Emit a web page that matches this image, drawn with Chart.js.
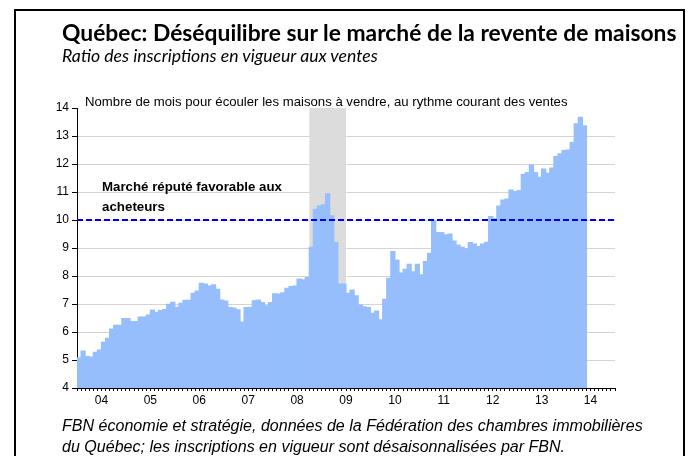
<!DOCTYPE html>
<html lang="fr">
<head>
<meta charset="utf-8">
<title>Québec: Déséquilibre sur le marché de la revente de maisons</title>
<script src="https://cdn.jsdelivr.net/npm/chart.js@4.4.1/dist/chart.umd.min.js"></script>
<style>
  html, body { margin: 0; padding: 0; background: #fff; }
  #wrap { position: relative; width: 693px; height: 456px; overflow: hidden; }
  #frame { position: absolute; left: 14px; top: 9px; width: 671px; height: 480px; border: 2px solid #000; box-sizing: border-box; }
  canvas { position: absolute; left: 0; top: 0; }
  .txt { position: absolute; white-space: nowrap; line-height: 1; color: #000; }
  .calibri { font-family: Lato, "Open Sans", sans-serif; }
  .arial { font-family: "Liberation Sans", Arial, sans-serif; }
</style>
</head>
<body>
<div id="wrap">
  <div id="frame"></div>
  <canvas id="chartRatio" width="693" height="456"></canvas>
  <span id="title" class="txt calibri" style="left:62px; font-size:21px; font-weight:bold;">Québec: Déséquilibre sur le marché de la revente de maisons</span>
  <span id="subtitle" class="txt calibri" style="left:62px; font-size:15px; font-style:italic;">Ratio des inscriptions en vigueur aux ventes</span>
  <span id="note" class="txt arial" style="left:85px; font-size:12px;">Nombre de mois pour écouler les maisons à vendre, au rythme courant des ventes</span>
  <span id="zone1" class="txt arial" style="left:102px; font-size:12px; font-weight:bold;">Marché réputé favorable aux</span>
  <span id="zone2" class="txt arial" style="left:102px; font-size:12px; font-weight:bold;">acheteurs</span>
  <span id="src1" class="txt arial" style="left:62px; font-size:14px; font-style:italic;">FBN économie et stratégie, données de la Fédération des chambres immobilières</span>
  <span id="src2" class="txt arial" style="left:62px; font-size:14px; font-style:italic;">du Québec; les inscriptions en vigueur sont désaisonnalisées par FBN.</span>
</div>
<script>
// Monthly ratio of active listings to sales, Jan 2004 onwards
const startYear = 2004;
const yearLabels = ['04', '05', '06', '07', '08', '09', '10', '11', '12', '13', '14'];
const ratio2004 = [5.08, 5.32, 5.12, 5.10, 5.27, 5.35, 5.63, 5.77, 6.10, 6.24, 6.24, 6.48];
const ratio2005 = [6.48, 6.37, 6.37, 6.53, 6.53, 6.60, 6.78, 6.70, 6.76, 6.80, 6.99, 7.06];
const ratio2006 = [6.88, 7.02, 7.13, 7.13, 7.38, 7.46, 7.74, 7.71, 7.64, 7.68, 7.52, 7.14];
const ratio2007 = [7.10, 6.87, 6.85, 6.79, 6.35, 6.87, 6.88, 7.11, 7.14, 7.05, 6.93, 7.05];
const ratio2008 = [7.36, 7.35, 7.40, 7.56, 7.62, 7.64, 7.89, 7.86, 7.94, 9.02, 10.38, 10.50];
const ratio2009 = [10.54, 10.93, 10.15, 9.19, 7.71, 7.71, 7.38, 7.50, 7.29, 6.96, 6.90, 6.87];
const ratio2010 = [6.67, 6.75, 6.43, 7.17, 7.92, 8.87, 8.57, 8.10, 8.24, 8.42, 8.15, 8.42];
const ratio2011 = [8.04, 8.51, 8.81, 9.98, 9.55, 9.55, 9.47, 9.50, 9.25, 9.10, 9.02, 8.97];
const ratio2012 = [9.19, 9.14, 9.05, 9.14, 9.20, 10.12, 10.05, 10.50, 10.71, 10.75, 11.07, 11.01];
const ratio2013 = [11.05, 11.63, 11.69, 11.96, 11.69, 11.52, 11.82, 11.67, 11.85, 12.26, 12.36, 12.48];
const ratio2014 = [12.50, 12.76, 13.43, 13.67, 13.36];
const recession = ['2008-10', '2009-06'];
const favorableLevel = 10;

const ratio = [].concat(ratio2004, ratio2005, ratio2006, ratio2007, ratio2008, ratio2009,
    ratio2010, ratio2011, ratio2012, ratio2013, ratio2014);
const totalMonths = yearLabels.length * 12;
const monthIndex = s => (+s.slice(0, 4) - startYear) * 12 + (+s.slice(5, 7) - 1);

// Fit HTML text to the reference widths and put it on its baseline
function place(id, width, baseline, ascent) {
    const el = document.getElementById(id);
    const size = parseFloat(getComputedStyle(el).fontSize);
    const fitted = size * width / el.getBoundingClientRect().width;
    el.style.fontSize = fitted + 'px';
    el.style.top = (baseline - ascent * fitted) + 'px';
}
place('title', 615, 41, 0.887);
place('subtitle', 316, 63, 0.887);
place('note', 483, 106, 0.8465);
place('zone1', 180, 191, 0.8465);
place('zone2', 63, 211, 0.8465);
place('src1', 581, 431, 0.8465);
place('src2', 503, 452, 0.8465);

// Grey recession band behind the bars
const recessionBand = {
    id: 'recessionBand',
    beforeDatasetsDraw(chart) {
        const { ctx, chartArea, scales: { x } } = chart;
        const x0 = x.getPixelForValue(monthIndex(recession[0]));
        const x1 = x.getPixelForValue(monthIndex(recession[1]) + 1);
        ctx.save();
        ctx.fillStyle = '#dcdcdc';
        ctx.fillRect(x0, chartArea.top, x1 - x0, chartArea.bottom - chartArea.top);
        ctx.restore();
    }
};

// Dashed threshold line
const thresholdLine = {
    id: 'thresholdLine',
    afterDatasetsDraw(chart) {
        const { ctx, chartArea, scales: { y } } = chart;
        const py = Math.round(y.getPixelForValue(favorableLevel));
        ctx.save();
        ctx.strokeStyle = '#0000ee';
        ctx.lineWidth = 2;
        ctx.setLineDash([6, 3]);
        ctx.beginPath();
        ctx.moveTo(chartArea.left, py);
        ctx.lineTo(chartArea.right, py);
        ctx.stroke();
        ctx.restore();
    }
};

Chart.defaults.font.family = '"Liberation Sans", Arial, sans-serif';
Chart.defaults.font.size = 12;
Chart.defaults.color = '#000';

const ctxRatio = document.getElementById('chartRatio').getContext('2d');
new Chart(ctxRatio, {
    type: 'bar',
    data: {
        datasets: [{
            label: 'Ratio des inscriptions en vigueur aux ventes',
            data: ratio.map((v, i) => ({ x: i + 0.5, y: v })),
            backgroundColor: '#96befd',
            borderWidth: 0,
            inflateAmount: 0.6,
            barPercentage: 1,
            categoryPercentage: 1
        }]
    },
    options: {
        responsive: false,
        animation: false,
        devicePixelRatio: 1,
        layout: { padding: { left: 52, top: 108, right: 78, bottom: 48 } },
        plugins: { legend: { display: false }, tooltip: { enabled: false } },
        scales: {
            x: {
                type: 'linear',
                min: 0,
                max: totalMonths,
                offset: false,
                afterBuildTicks: scale => {
                    scale.ticks = Array.from({ length: totalMonths + 1 }, (_, i) => ({ value: i }));
                },
                afterFit: scale => { scale.height = 20; },
                ticks: {
                    autoSkip: false,
                    maxRotation: 0,
                    padding: 2,
                    callback: v => (v % 12 === 6 ? yearLabels[(v - 6) / 12] : '')
                },
                grid: { offset: false, drawOnChartArea: false, tickLength: 3, tickColor: '#000' },
                border: { color: '#000' }
            },
            y: {
                min: 4,
                max: 14,
                afterFit: scale => { scale.width = 25; },
                ticks: { stepSize: 1, padding: 3 },
                grid: {
                    color: c => (c.tick && c.tick.value === 14 ? 'rgba(0,0,0,0)' : '#d4d4d4'),
                    tickLength: 5,
                    tickColor: '#000'
                },
                border: { color: '#000' }
            }
        }
    },
    plugins: [recessionBand, thresholdLine]
});
</script>
</body>
</html>
